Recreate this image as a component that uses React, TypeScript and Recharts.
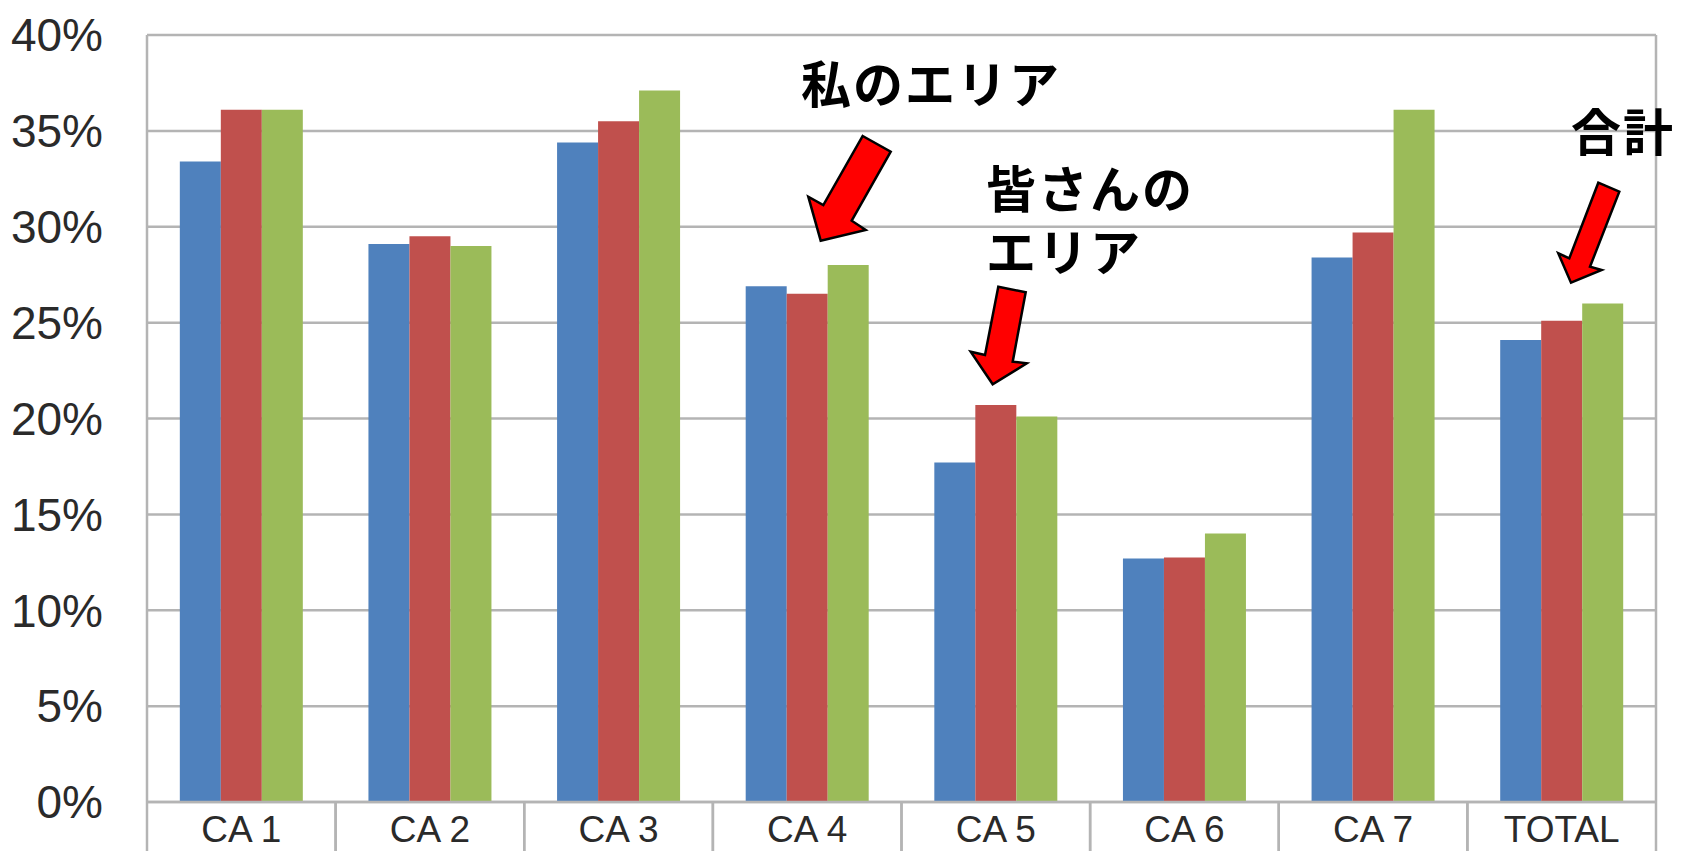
import React from 'react';
import { BarChart, Bar, XAxis, YAxis, CartesianGrid } from 'recharts';

const categories = ['CA 1', 'CA 2', 'CA 3', 'CA 4', 'CA 5', 'CA 6', 'CA 7', 'TOTAL'];
const blueValues = [33.4, 29.1, 34.4, 26.9, 17.7, 12.7, 28.4, 24.1];
const redValues = [36.1, 29.5, 35.5, 26.5, 20.7, 12.75, 29.7, 25.1];
const greenValues = [36.1, 29.0, 37.1, 28.0, 20.1, 14.0, 36.1, 26.0];
const yTicks = [0, 5, 10, 15, 20, 25, 30, 35, 40];

const data = categories.map((c, i) => ({
  name: c,
  blue: blueValues[i],
  red: redValues[i],
  green: greenValues[i],
}));

const GRID = '#B4B4B4';
const W = 1681;
const H = 851;

const CategoryTick = (props: any) => {
  const { x, y, payload, width, visibleTicksCount } = props;
  const half = width / visibleTicksCount / 2;
  return (
    <g>
      <line x1={x - half} y1={y} x2={x - half} y2={H} stroke={GRID} strokeWidth={2.5} />
      <line x1={x + half} y1={y} x2={x + half} y2={H} stroke={GRID} strokeWidth={2.5} />
      <text
        x={x}
        y={y + 40}
        textAnchor="middle"
        fontSize={37}
        fill="#2a2a2a"
        fontFamily="'Liberation Sans', Arial, sans-serif"
      >
        {payload.value}
      </text>
    </g>
  );
};

const arrows = [
  '862.7,136 890.7,151.7 851.7,220.7 865.7,230 820.7,240.7 808.3,196.7 823.3,205',
  '998.3,286.7 1025.7,292.3 1012.7,361.7 1026.7,363.3 992.7,384.3 970.7,351.7 985,355',
  '1598.3,182.7 1619.3,191.7 1590,266.7 1601.7,270 1571,282.7 1558.3,253.3 1569.3,258.3',
];

const labels = [
  { lines: ['私のエリア'], x: 801, y: 103 },
  { lines: ['皆さんの', 'エリア'], x: 986, y: 208 },
  { lines: ['合計'], x: 1571, y: 151 },
];

export default function App() {
  return (
    <div style={{ position: 'absolute', left: 0, top: 0, width: W, height: H, background: '#fff' }}>
      <BarChart
        width={W}
        height={H}
        data={data}
        margin={{ top: 35, right: 0, bottom: 0, left: 0 }}
        barCategoryGap="17.4%"
        barGap={0}
      >
        <CartesianGrid vertical={false} stroke={GRID} strokeWidth={2.5} />
        <XAxis
          dataKey="name"
          height={49}
          tickLine={false}
          tickSize={0}
          tickMargin={0}
          axisLine={{ stroke: GRID, strokeWidth: 2.5 }}
          tick={<CategoryTick />}
          interval={0}
        />
        <YAxis
          width={147}
          domain={[0, 40]}
          ticks={yTicks}
          tickFormatter={(v: number) => `${v}%`}
          tickLine={false}
          tickSize={0}
          tickMargin={44}
          axisLine={{ stroke: GRID, strokeWidth: 2.5 }}
          tick={{ fontSize: 46, fill: '#2a2a2a', fontFamily: "'Liberation Sans', Arial, sans-serif" }}
          interval={0}
        />
        <YAxis
          yAxisId="r"
          orientation="right"
          width={25}
          domain={[0, 40]}
          tick={false}
          tickLine={false}
          axisLine={{ stroke: GRID, strokeWidth: 2.5 }}
        />
        <Bar dataKey="blue" fill="#4F81BD" isAnimationActive={false} />
        <Bar dataKey="red" fill="#C0504D" isAnimationActive={false} />
        <Bar dataKey="green" fill="#9BBB59" isAnimationActive={false} />
      </BarChart>
      <svg
        width={W}
        height={H}
        style={{ position: 'absolute', left: 0, top: 0, pointerEvents: 'none' }}
      >
        {arrows.map((p, i) => (
          <polygon key={i} points={p} fill="#FF0000" stroke="#000" strokeWidth={2.5} strokeLinejoin="miter" />
        ))}
        {labels.map((l, i) => (
          <text
            key={i}
            x={l.x}
            y={l.y}
            fontSize={50}
            fontWeight={700}
            letterSpacing={2}
            fill="#000"
            fontFamily="'Noto Sans CJK JP', sans-serif"
          >
            {l.lines.map((t, j) => (
              <tspan key={j} x={l.x} dy={j === 0 ? 0 : 63}>
                {t}
              </tspan>
            ))}
          </text>
        ))}
      </svg>
    </div>
  );
}
